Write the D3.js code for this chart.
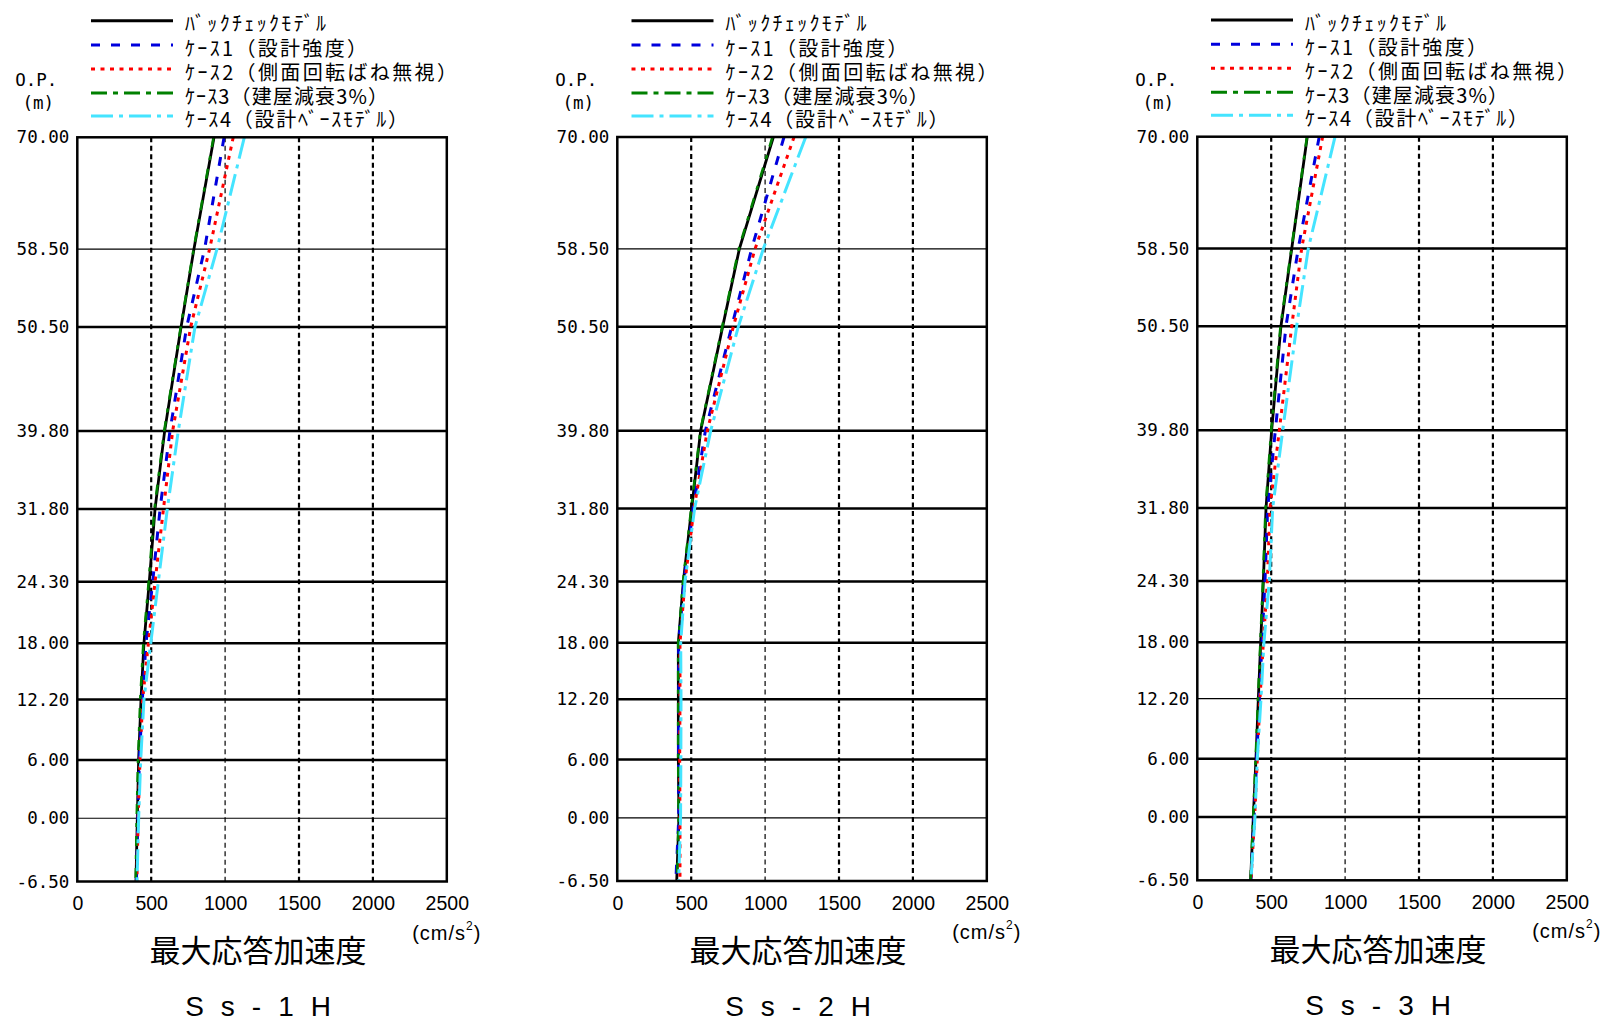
<!DOCTYPE html>
<html><head><meta charset="utf-8">
<script src="https://cdn.jsdelivr.net/npm/d3@7"></script>
<style>
html,body{margin:0;padding:0;background:#fff;}
svg{display:block;}
</style></head>
<body>
<svg id="chart" width="1605" height="1021"></svg>
<script>
// ---------- data ----------
const levels = [70, 58.5, 50.5, 39.8, 31.8, 24.3, 18, 12.2, 6, 0, -6.5];
const levelLabels = ["70.00","58.50","50.50","39.80","31.80","24.30","18.00","12.20","6.00","0.00","-6.50"];
const xTicks = [0, 500, 1000, 1500, 2000, 2500];
const seriesNames = ["ﾊﾞｯｸﾁｪｯｸﾓﾃﾞﾙ", "ｹｰｽ1（設計強度）", "ｹｰｽ2（側面回転ばね無視）", "ｹｰｽ3（建屋減衰3%）", "ｹｰｽ4（設計ﾍﾞｰｽﾓﾃﾞﾙ）"];
const panelTitles = ["Ss-1H", "Ss-2H", "Ss-3H"];
const xTitle = "最大応答加速度";

// Ss-1H
const ss1Back  = [925, 789, 702, 591, 526, 487, 451, 431, 415, 406, 397];
const ss1Case1 = [993, 861, 740, 627, 560, 510, 465, 440, 420, 410, 400];
const ss1Case2 = [1055, 895, 767, 645, 583, 526, 481, 442, 424, 412, 403];
const ss1Case3 = [922, 787, 700, 588, 522, 483, 447, 426, 411, 402, 395];
const ss1Case4 = [1130, 945, 796, 683, 609, 548, 497, 451, 429, 415, 404];
// Ss-2H
const ss2Back  = [1056, 826, 713, 564, 503, 447, 413, 413, 413, 417, 402];
const ss2Case1 = [1128, 909, 774, 596, 513, 451, 415, 416, 414, 416, 396];
const ss2Case2 = [1196, 932, 785, 609, 519, 458, 424, 424, 422, 424, 424];
const ss2Case3 = [1050, 822, 710, 562, 500, 445, 412, 412, 412, 415, 403];
const ss2Case4 = [1275, 988, 819, 632, 523, 458, 429, 431, 430, 428, 415];
// Ss-3H
const ss3Back  = [744, 639, 566, 503, 465, 447, 429, 413, 397, 379, 361];
const ss3Case1 = [825, 683, 600, 528, 476, 458, 438, 420, 402, 384, 363];
const ss3Case2 = [848, 706, 639, 555, 492, 474, 447, 424, 406, 388, 363];
const ss3Case3 = [742, 637, 563, 500, 462, 444, 427, 411, 395, 378, 360];
const ss3Case4 = [932, 751, 672, 578, 510, 487, 451, 431, 406, 390, 363];

const panelData = [
  [ss1Back, ss1Case1, ss1Case2, ss1Case3, ss1Case4],
  [ss2Back, ss2Case1, ss2Case2, ss2Case3, ss2Case4],
  [ss3Back, ss3Case1, ss3Case2, ss3Case3, ss3Case4]
];

// ---------- styles / layout ----------
const seriesStyle = [
  {color:"#000000", width:3,   dash:null},
  {color:"#0000dd", width:3,   dash:"9,11"},
  {color:"#ff0000", width:3,   dash:"4,5.5"},
  {color:"#008000", width:3,   dash:"16,6,5,6"},
  {color:"#44e4ff", width:3,   dash:"22,6,4,6"}
];
const plotDash = [null, "9,11", "4,5.5", "10,9,4,9", "22,6,4,6"];
const legendTextWidths = [141, 182, 272, 203, 223];
const panels = [
  {left:77.3,   top:137.3, bottom:881.5, legX:91,   thinH:[58.5, 0]},
  {left:617.3,  top:137,   bottom:881,   legX:631.5, thinH:[58.5, 0]},
  {left:1197.3, top:136.7, bottom:880.3, legX:1211, thinH:[12.2]}
];
const plotW = 369.5;
const legendRows = [20.7, 45, 69, 93, 116];
const legLineLen = 82;

const svg = d3.select("#chart");

panels.forEach((p, pi) => {
  const x = d3.scaleLinear().domain([0, 2500]).range([p.left, p.left + plotW]);
  const y = d3.scaleLinear().domain([-6.5, 70]).range([p.bottom, p.top]);
  const g = svg.append("g");

  // horizontal gridlines
  g.selectAll("line.h").data(levels.filter(v => v !== 70 && v !== -6.5)).enter()
    .append("line").attr("class","h")
    .attr("x1", x(0)).attr("x2", x(2500))
    .attr("y1", d => y(d)).attr("y2", d => y(d))
    .attr("stroke", "#000")
    .attr("stroke-width", d => p.thinH.includes(d) ? 1.2 : 2.5);

  // vertical dotted gridlines
  g.selectAll("line.v").data(xTicks.filter(v => v > 0 && v < 2500)).enter()
    .append("line").attr("class","v")
    .attr("x1", d => x(d)).attr("x2", d => x(d))
    .attr("y1", y(70)).attr("y2", y(-6.5))
    .attr("stroke", "#000")
    .attr("stroke-width", d => d === 1000 ? 1.2 : 2.2)
    .attr("stroke-dasharray", "5,3.5");

  // series lines (drawn in legend order)
  const line = d3.line().x(d => x(d[0])).y(d => y(d[1]));
  [0, 1, 2, 3, 4].forEach(si => {
    const vals = panelData[pi][si];
    const pts = vals.map((v, i) => [v, levels[i]]);
    const st = seriesStyle[si];
    g.append("path").datum(pts)
      .attr("d", line)
      .attr("fill", "none")
      .attr("stroke", st.color)
      .attr("stroke-width", si === 0 ? 2.8 : (si === 3 ? 2.6 : st.width))
      .attr("stroke-dasharray", plotDash[si]);
  });

  // frame
  g.append("rect")
    .attr("x", x(0)).attr("y", y(70))
    .attr("width", x(2500) - x(0)).attr("height", y(-6.5) - y(70))
    .attr("fill", "none").attr("stroke", "#000").attr("stroke-width", 2.5);

  // y axis labels
  const yAxis = d3.axisLeft(y).tickValues(levels).tickSize(0).tickPadding(8)
    .tickFormat((d, i) => levelLabels[i]);
  const ya = g.append("g").attr("transform", `translate(${x(0)},0)`).call(yAxis);
  ya.select(".domain").remove();
  ya.selectAll("text").attr("font-family", "'DejaVu Sans Mono', monospace")
    .attr("font-size", 17.5).attr("fill", "#000");

  // x axis labels
  const xAxis = d3.axisBottom(x).tickValues(xTicks).tickSize(0).tickPadding(15)
    .tickFormat(d3.format("d"));
  const xa = g.append("g").attr("transform", `translate(0,${y(-6.5)})`).call(xAxis);
  xa.select(".domain").remove();
  xa.selectAll("text").attr("font-family", "'Liberation Sans', Arial, sans-serif")
    .attr("font-size", 19.5).attr("fill", "#000");

  // unit
  const unit = g.append("text")
    .attr("x", x(2500)).attr("y", p.bottom + 58)
    .attr("text-anchor", "middle")
    .attr("font-family", "'Liberation Sans', Arial, sans-serif")
    .attr("font-size", 20).attr("letter-spacing", 1).attr("fill", "#000");
  unit.append("tspan").text("(cm/s");
  unit.append("tspan").attr("font-size", 12).attr("dy", -10).text("2");
  unit.append("tspan").attr("dy", 10).text(")");

  // axis title
  const cx = (x(0) + x(2500)) / 2 - 4;
  g.append("text")
    .attr("x", cx).attr("y", p.bottom + 67)
    .attr("text-anchor", "middle").attr("dominant-baseline", "central")
    .attr("font-family", "'Noto Sans CJK JP', sans-serif")
    .attr("font-size", 31).attr("fill", "#000")
    .text(xTitle);

  // panel title
  const ls = 17;
  g.append("text")
    .attr("x", cx + ls / 2).attr("y", p.bottom + 134.5)
    .attr("text-anchor", "middle")
    .attr("font-family", "'Liberation Sans', Arial, sans-serif")
    .attr("font-size", 28).attr("letter-spacing", ls).attr("fill", "#000")
    .text(panelTitles[pi]);

  // O.P. (m)
  g.append("text").attr("x", x(0) - 41).attr("y", 80)
    .attr("text-anchor", "middle").attr("dominant-baseline", "central")
    .attr("font-family", "'DejaVu Sans Mono', monospace").attr("font-size", 17.5)
    .attr("fill", "#000").text("O.P.");
  g.append("text").attr("x", x(0) - 39).attr("y", 103)
    .attr("text-anchor", "middle").attr("dominant-baseline", "central")
    .attr("font-family", "'DejaVu Sans Mono', monospace").attr("font-size", 17.5)
    .attr("fill", "#000").text("(m)");

  // legend
  const leg = g.append("g");
  seriesNames.forEach((name, si) => {
    const st = seriesStyle[si];
    const ly = legendRows[si] + (pi === 2 ? -0.7 : 0);
    leg.append("line")
      .attr("x1", p.legX).attr("x2", p.legX + legLineLen)
      .attr("y1", ly).attr("y2", ly)
      .attr("stroke", st.color).attr("stroke-width", st.width)
      .attr("stroke-dasharray", st.dash);
    leg.append("text")
      .attr("x", p.legX + 94).attr("y", ly + 2)
      .attr("dominant-baseline", "central")
      .attr("font-family", "'Noto Sans CJK JP', sans-serif")
      .attr("font-size", 20).attr("fill", "#000")
      .attr("textLength", legendTextWidths[si]).attr("lengthAdjust", "spacing")
      .text(name);
  });
});
</script>
</body></html>
